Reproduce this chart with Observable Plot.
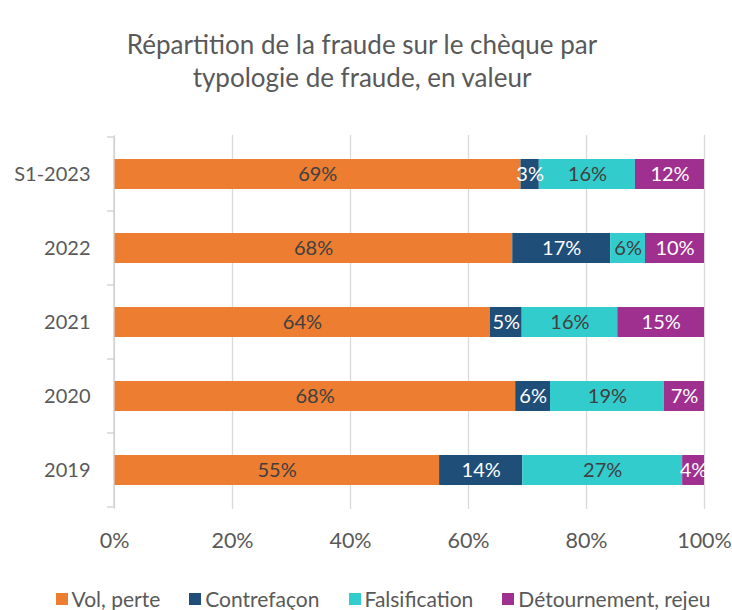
<!DOCTYPE html>
<html>
<head>
<meta charset="utf-8">
<script src="https://cdn.jsdelivr.net/npm/d3@7"></script>
<script src="https://cdn.jsdelivr.net/npm/@observablehq/plot@0.6"></script>
<style>
  html, body { margin: 0; background: #fff; font-family: Lato, "Open Sans", sans-serif; overflow: hidden; }
  #wrap { position: relative; width: 732px; height: 610px; }
  #title { width: 724px; text-align: center; font-size: 26px; line-height: 33px; color: #595959; padding-top: 28px; height: 66px; }
  #legend { position: absolute; left: 0; top: 588px; width: 732px; box-sizing: border-box; display: flex; justify-content: center; align-items: center; height: 22px; line-height: 22px; font-size: 21px; color: #595959; padding-left: 34px; }
  #legend .item { display: flex; align-items: center; margin-right: 29px; white-space: nowrap; }
  #legend .item:last-child { margin-right: 0; }
  #legend .sw { width: 12px; height: 12px; margin-right: 4px; }
</style>
</head>
<body>
<div id="wrap">
<div id="title">Répartition de la fraude sur le chèque par<br>typologie de fraude, en valeur</div>
<div id="chart"></div>
<div id="legend"></div>
</div>
<script>
const categories = ["S1-2023", "2022", "2021", "2020", "2019"];
const series = ["Vol, perte", "Contrefaçon", "Falsification", "Détournement, rejeu"];
const volPerte      = [68.9, 67.5, 63.7, 68.0, 55.1];
const contrefacon   = [3.1, 16.6, 5.4, 5.9, 14.1];
const falsification = [16.3, 5.9, 16.2, 19.3, 27.1];
const detournement  = [11.7, 10.0, 14.7, 6.8, 3.7];
const xTicks = [0, 20, 40, 60, 80, 100];
const colors = ["#ED7D31", "#1F4E79", "#33CCCC", "#A0308F"];
const whiteText = new Set(["Contrefaçon", "Détournement, rejeu"]);

const valuesBySeries = [volPerte, contrefacon, falsification, detournement];
const rows = [];
categories.forEach((cat, i) => {
  series.forEach((s, j) => rows.push({cat, series: s, value: valuesBySeries[j][i]}));
});

const label = d => Math.round(d.value) + "%";
const chart = Plot.plot({
  width: 732,
  height: 480,
  marginTop: 41,
  marginBottom: 65,
  marginLeft: 114,
  marginRight: 28,
  style: { fontFamily: "Lato, 'Open Sans', sans-serif", background: "#fff", overflow: "visible" },
  x: { domain: [0, 100] },
  y: { domain: categories, paddingInner: 0.6, paddingOuter: 0.3 },
  color: { domain: series, range: colors },
  marks: [
    Plot.gridX(xTicks, { stroke: "#d9d9d9", strokeOpacity: 1, strokeWidth: 1.3 }),
    Plot.barX(rows, Plot.stackX({ x: "value", y: "cat", fill: "series", z: "series" })),
    Plot.text(rows, Plot.stackX({ x: "value", y: "cat", z: "series",
      text: d => whiteText.has(d.series) ? null : label(d), fill: "#404040", fontSize: 20 })),
    Plot.text(rows, Plot.stackX({ x: "value", y: "cat", z: "series",
      text: d => whiteText.has(d.series) ? label(d) : null, fill: "#ffffff", fontSize: 20 })),
    Plot.axisX(xTicks, { tickSize: 0, tickPadding: 23, tickFormat: d => d + "%", fontSize: 21.5, color: "#595959", label: null }),
    Plot.axisY({ tickSize: 0, tickPadding: 24, fontSize: 20, color: "#595959", label: null })
  ]
});

// y axis line and category boundary ticks, positioned from Plot's own y scale
const ys = chart.scale("y");
const xs = chart.scale("x");
const pos = categories.map(c => ys.apply(c));
const step = pos[1] - pos[0];
const bw = ys.bandwidth;
const bounds = pos.map(p => p + bw / 2 - step / 2);
bounds.push(pos[pos.length - 1] + bw / 2 + step / 2);
const x0 = xs.apply(0);
const g = d3.select(chart).append("g").attr("stroke", "#d0d0d0").attr("stroke-width", 1.3);
g.append("line").attr("x1", x0).attr("x2", x0).attr("y1", bounds[0]).attr("y2", bounds[bounds.length - 1]);
bounds.forEach(b => g.append("line").attr("x1", x0 - 7).attr("x2", x0).attr("y1", b).attr("y2", b));

document.getElementById("chart").appendChild(chart);

const legend = document.getElementById("legend");
series.forEach((s, i) => {
  const item = document.createElement("div");
  item.className = "item";
  const sw = document.createElement("div");
  sw.className = "sw";
  sw.style.background = colors[i];
  const t = document.createElement("span");
  t.textContent = s;
  item.appendChild(sw);
  item.appendChild(t);
  legend.appendChild(item);
});
</script>
</body>
</html>
